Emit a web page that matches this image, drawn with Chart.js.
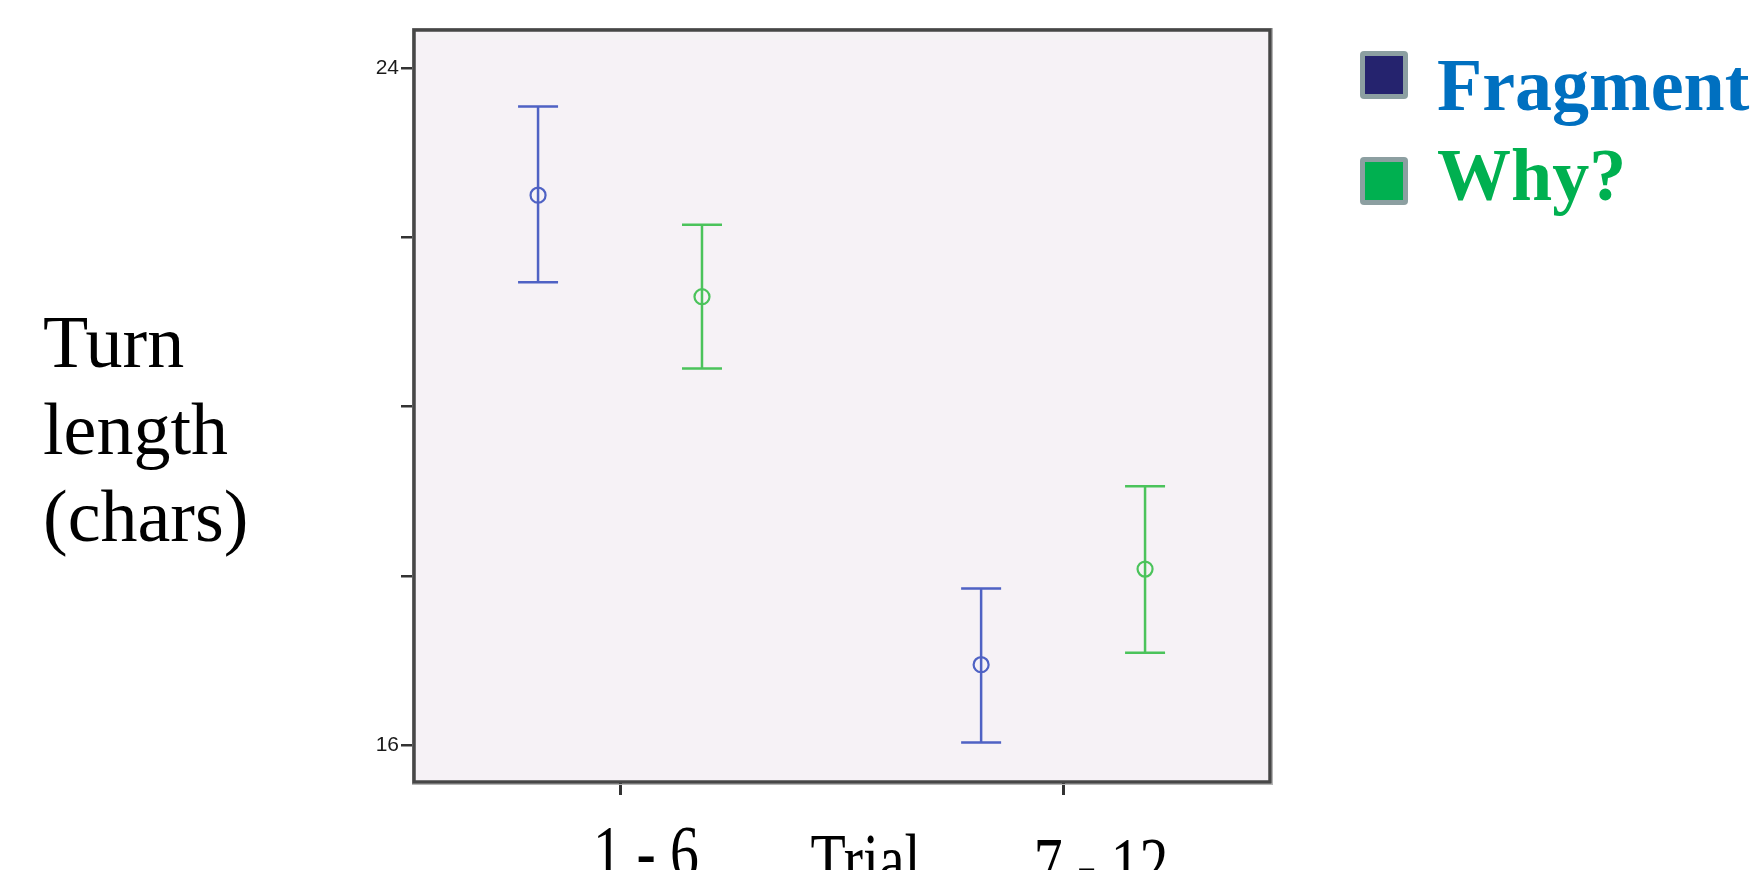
<!DOCTYPE html>
<html><head><meta charset="utf-8">
<script src="https://cdn.jsdelivr.net/npm/chart.js@4.4.1/dist/chart.umd.min.js"></script>
<style>html,body{margin:0;padding:0;background:#fff;overflow:hidden}#wrap{position:relative;width:1757px;height:870px}</style>
</head><body><div id="wrap"><canvas id="c" width="1757" height="870"></canvas></div>
<script>
const categories = ['1 - 6', '7 - 12'];
const xAxisTitle = 'Trial';
const yAxisTitle = ['Turn', 'length', '(chars)'];
const seriesNames = ['Fragment', 'Why?'];
const fragmentMean = [22.50, 16.95];
const fragmentUpper = [23.55, 17.85];
const fragmentLower = [21.47, 16.03];
const whyMean = [21.30, 18.08];
const whyUpper = [22.15, 19.06];
const whyLower = [20.45, 17.09];
const yTickValues = [16, 18, 20, 22, 24];
const yTickLabels = ['16', '', '', '', '24'];

const OFFSET = 0.185;
const colors = {
  fragLine: '#4F62C4', whyLine: '#4BC35B',
  fragBox: '#25236E', whyBox: '#00B050',
  fragText: '#0070C0', whyText: '#00B050'
};

function pts(means, off) { return means.map((m, i) => ({ x: i + 1 + off, y: m })); }

const datasets = [
  { label: seriesNames[0], data: pts(fragmentMean, -OFFSET), upper: fragmentUpper, lower: fragmentLower,
    borderColor: colors.fragLine, backgroundColor: 'rgba(0,0,0,0)', pointRadius: 7.5, pointBorderWidth: 2.2,
    boxColor: colors.fragBox, textColor: colors.fragText, showLine: false },
  { label: seriesNames[1], data: pts(whyMean, OFFSET), upper: whyUpper, lower: whyLower,
    borderColor: colors.whyLine, backgroundColor: 'rgba(0,0,0,0)', pointRadius: 7.5, pointBorderWidth: 2.2,
    boxColor: colors.whyBox, textColor: colors.whyText, showLine: false }
];

const framePlugin = {
  id: 'frame',
  beforeDraw(chart) {
    const { ctx, chartArea: a } = chart;
    ctx.save();
    ctx.fillStyle = '#F6F2F6';
    ctx.fillRect(a.left, a.top, a.right - a.left, a.bottom - a.top);
    ctx.restore();
  },
  beforeDatasetsDraw(chart) {
    const { ctx } = chart;
    const xs = chart.scales.x, ys = chart.scales.y;
    chart.data.datasets.forEach(ds => {
      ctx.save();
      ctx.strokeStyle = ds.borderColor;
      ctx.lineWidth = 2.5;
      ds.data.forEach((p, i) => {
        const x = xs.getPixelForValue(p.x);
        const yh = ys.getPixelForValue(ds.upper[i]);
        const yl = ys.getPixelForValue(ds.lower[i]);
        ctx.beginPath();
        ctx.moveTo(x, yh); ctx.lineTo(x, yl);
        ctx.moveTo(x - 20, yh); ctx.lineTo(x + 20, yh);
        ctx.moveTo(x - 20, yl); ctx.lineTo(x + 20, yl);
        ctx.stroke();
      });
      ctx.restore();
    });
  },
  afterDraw(chart) {
    const { ctx, chartArea: a } = chart;
    const xs = chart.scales.x;
    ctx.save();
    // frame
    ctx.strokeStyle = '#B5B5B5';
    ctx.lineWidth = 1;
    ctx.strokeRect(a.left - 1.5, a.top - 1.5, a.right - a.left + 4, a.bottom - a.top + 4);
    ctx.strokeStyle = '#474747';
    ctx.lineWidth = 3.5;
    ctx.strokeRect(a.left, a.top, a.right - a.left, a.bottom - a.top);

    // y title
    ctx.fillStyle = '#000';
    ctx.font = '74px "Liberation Serif"';
    ctx.textAlign = 'left';
    ctx.textBaseline = 'alphabetic';
    const yBase = [367, 454, 541];
    yAxisTitle.forEach((t, i) => ctx.fillText(t, 43, yBase[i]));

    // x labels (horizontally condensed)
    const p1 = xs.getPixelForValue(1), p2 = xs.getPixelForValue(2);
    const xl = [
      { t: categories[0], x: p1 + 26, y: 877 },
      { t: xAxisTitle, x: (p1 + p2) / 2 + 24, y: 885 },
      { t: categories[1], x: p2 + 38, y: 889 }
    ];
    ctx.textAlign = 'center';
    xl.forEach(o => {
      ctx.save();
      ctx.translate(o.x, o.y);
      ctx.scale(0.78, 1);
      ctx.fillText(o.t, 0, 0);
      ctx.restore();
    });

    // legend
    const boxY = [51, 157];
    const textY = [110, 200];
    chart.data.datasets.forEach((ds, i) => {
      const bx = 1360, by = boxY[i], bw = 48, bh = 48;
      ctx.fillStyle = '#8C9FA1';
      ctx.beginPath();
      ctx.roundRect(bx, by, bw, bh, 4);
      ctx.fill();
      ctx.fillStyle = ds.boxColor;
      ctx.fillRect(bx + 5, by + 5, bw - 10, bh - 10);
      ctx.fillStyle = ds.textColor;
      ctx.font = 'bold 74px "Liberation Serif"';
      ctx.textAlign = 'left';
      ctx.fillText(ds.label, 1437, textY[i]);
    });
    ctx.restore();
  }
};

new Chart(document.getElementById('c'), {
  type: 'scatter',
  data: { datasets },
  options: {
    responsive: false,
    animation: false,
    devicePixelRatio: 1,
    layout: { padding: { left: 354, right: 487, top: 30, bottom: 0 } },
    plugins: { legend: { display: false }, tooltip: { enabled: false } },
    scales: {
      x: {
        type: 'linear', min: 0.535, max: 2.467,
        afterBuildTicks: s => { s.ticks = categories.map((c, i) => ({ value: i + 1 })); },
        afterFit: s => { s.height = 88; },
        ticks: { display: false },
        grid: { display: true, drawOnChartArea: false, drawTicks: true, tickLength: 13, lineWidth: 3, color: '#333' },
        border: { display: false }
      },
      y: {
        type: 'linear', min: 15.563, max: 24.453,
        afterBuildTicks: s => { s.ticks = yTickValues.map(v => ({ value: v })); },
        afterFit: s => { s.width = 60; },
        ticks: {
          padding: 2, color: '#1a1a1a', font: { family: '"Liberation Sans"', size: 21 },
          callback: (v) => { const k = yTickValues.indexOf(v); return k >= 0 ? yTickLabels[k] : ''; }
        },
        grid: { display: true, drawOnChartArea: false, drawTicks: true, tickLength: 13, lineWidth: 2.5, color: '#333' },
        border: { display: false }
      }
    }
  },
  plugins: [framePlugin]
});
</script>
</body></html>
